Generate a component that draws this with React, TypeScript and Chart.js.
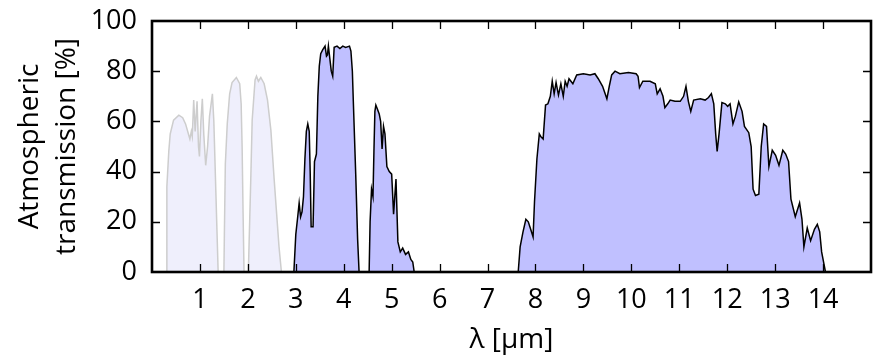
import React, { useEffect, useRef } from "react";
import { Chart, registerables } from "chart.js";

Chart.register(...registerables);

// ---- axis ticks ----
const xTickValues = [1, 2, 3, 4, 5, 6, 7, 8, 9, 10, 11, 12, 13, 14];
const yTickValues = [0, 20, 40, 60, 80, 100];

// ---- visible / NIR windows (light grey) ----
const visWavelength = [
  0.30, 0.31, 0.35, 0.38, 0.45, 0.56, 0.64, 0.70, 0.76, 0.79, 0.82, 0.84, 0.87, 0.90, 0.94, 0.97, 0.99,
  1.02, 1.05, 1.08, 1.12, 1.16, 1.20, 1.26, 1.29, 1.32, 1.36, 1.38,
  1.50, 1.51, 1.53, 1.57, 1.62, 1.67, 1.76, 1.83, 1.86, 1.88, 1.90, 1.92,
  2.01, 2.06, 2.09, 2.15, 2.18, 2.22, 2.27, 2.34, 2.41, 2.48, 2.55, 2.65, 2.70,
];
const visTransmission = [
  0, 34, 48, 55, 60.5, 62.5, 61.5, 59, 55, 53, 56, 54, 68.5, 56, 68, 50, 46,
  60, 69, 55, 42.5, 50, 62, 71, 60, 40, 13.5, 0,
  0, 15, 43, 59, 71, 75.5, 77.5, 75, 67, 50, 23.5, 0,
  0, 36.5, 60.5, 76.5, 78, 76, 77.5, 75, 68.5, 56.5, 36.5, 10, 0,
];

// ---- MWIR window 3-4.3 um ----
const mwirWavelength = [
  2.96, 3.00, 3.04, 3.07, 3.10, 3.13, 3.16, 3.19, 3.22, 3.25, 3.28, 3.30, 3.32, 3.36, 3.39, 3.43,
  3.46, 3.49, 3.52, 3.56, 3.61, 3.64, 3.66, 3.68, 3.71, 3.74, 3.77, 3.80, 3.86, 3.92, 3.98, 4.04,
  4.12, 4.15, 4.18, 4.20, 4.25, 4.29, 4.32,
];
const mwirTransmission = [
  0, 15, 22, 27.5, 22, 24, 30, 45, 56, 59, 56, 40, 18, 18, 44, 47,
  70, 82, 87, 88.5, 90, 86, 86.5, 90, 85, 80, 78, 89.5, 90, 89, 90, 89.5,
  90, 88, 80, 68, 39, 13, 0,
];

// ---- 4.5-5.5 um window ----
const band5Wavelength = [
  4.53, 4.55, 4.58, 4.61, 4.63, 4.65, 4.67, 4.70, 4.74, 4.77, 4.80, 4.83, 4.86, 4.90, 4.95, 5.00,
  5.04, 5.09, 5.13, 5.18, 5.23, 5.29, 5.35, 5.40, 5.44, 5.47,
];
const band5Transmission = [
  0, 20, 33, 30, 48, 64, 66.5, 65, 63, 60, 49, 58, 55, 42, 40, 39,
  23, 37, 12, 8, 9.5, 7, 8, 5, 4, 0,
];

// ---- LWIR window 8-14 um ----
const lwirWavelength = [
  7.64, 7.68, 7.74, 7.80, 7.85, 7.90, 7.95, 7.98, 8.03, 8.08, 8.11, 8.16, 8.21, 8.26, 8.31, 8.35,
  8.39, 8.43, 8.48, 8.53, 8.58, 8.62, 8.66, 8.70, 8.78, 8.86, 9.00, 9.14, 9.24, 9.31, 9.40, 9.49,
  9.54, 9.59, 9.66, 9.76, 9.94, 10.10, 10.14, 10.17, 10.24, 10.39, 10.50, 10.54, 10.60, 10.66, 10.70, 10.76,
  10.81, 10.91, 11.02, 11.09, 11.14, 11.19, 11.24, 11.30, 11.44, 11.54, 11.61, 11.67, 11.72, 11.76, 11.79, 11.83,
  11.89, 11.96, 12.01, 12.06, 12.12, 12.17, 12.24, 12.31, 12.36, 12.45, 12.50, 12.54, 12.59, 12.66, 12.71, 12.76,
  12.82, 12.87, 12.94, 13.01, 13.08, 13.16, 13.22, 13.28, 13.33, 13.42, 13.51, 13.56, 13.60, 13.67, 13.74, 13.82,
  13.88, 13.93, 13.97, 14.02, 14.05,
];
const lwirTransmission = [
  0, 10, 16, 21, 20, 17, 14, 28, 45, 55, 54, 53, 66.5, 67, 70, 76,
  71, 75.5, 70.5, 75, 70, 76, 74, 77, 75, 78.5, 79, 78.5, 79, 77, 74, 69,
  74, 78.5, 80, 79, 79.5, 79, 78, 73.5, 76, 76, 75, 71, 73, 70, 65.5, 67,
  68.5, 68, 68, 70, 74, 68, 64, 68.5, 69, 68.5, 69.5, 71, 67, 55, 48, 55,
  67.5, 67, 66, 67, 59, 62, 67.8, 64, 58, 55.5, 50, 33, 30.5, 31, 50, 59,
  58, 42, 48.5, 46.5, 42.5, 48.5, 47, 44, 29, 22, 27.5, 21, 10, 17.5, 12.5, 17,
  19, 16, 8, 3, 0,
];

const FONT = "'Open Sans', 'Noto Sans', 'DejaVu Sans', sans-serif";

function toPoints(xs: number[], ys: number[]) {
  return xs.map((x, i) => ({ x, y: ys[i] }));
}

const framePlugin = {
  id: "gnuplotFrame",
  afterDatasetsDraw(chart: any) {
    const { ctx, chartArea, scales } = chart;
    const { left, right, top, bottom } = chartArea;
    const xs = scales.x;
    const ys = scales.y;
    const L = 8;
    ctx.save();
    ctx.strokeStyle = "#000";
    ctx.lineWidth = 1.3;
    ctx.beginPath();
    for (const v of xTickValues) {
      const px = Math.round(xs.getPixelForValue(v)) + 0.5;
      ctx.moveTo(px, bottom);
      ctx.lineTo(px, bottom - L);
      ctx.moveTo(px, top);
      ctx.lineTo(px, top + L);
    }
    for (const v of yTickValues) {
      if (v === yTickValues[0] || v === yTickValues[yTickValues.length - 1]) continue;
      const py = Math.round(ys.getPixelForValue(v)) + 0.5;
      ctx.moveTo(left, py);
      ctx.lineTo(left + L, py);
      ctx.moveTo(right, py);
      ctx.lineTo(right - L, py);
    }
    ctx.stroke();
    ctx.lineWidth = 2.6;
    ctx.strokeRect(left, top, right - left, bottom - top);
    ctx.restore();
  },
};

export default function App() {
  const canvasRef = useRef<HTMLCanvasElement | null>(null);

  useEffect(() => {
    if (!canvasRef.current) return;
    const blueStyle = {
      borderColor: "#000000",
      borderWidth: 1.5,
      backgroundColor: "rgb(192,192,255)",
      fill: "origin",
      pointRadius: 0,
      tension: 0,
    };
    const chart = new Chart(canvasRef.current, {
      type: "line",
      data: {
        datasets: [
          {
            label: "visible / NIR",
            data: toPoints(visWavelength, visTransmission),
            borderColor: "rgb(205,205,205)",
            borderWidth: 1.5,
            backgroundColor: "rgb(239,239,252)",
            fill: "origin",
            pointRadius: 0,
            tension: 0,
          },
          { label: "MWIR", data: toPoints(mwirWavelength, mwirTransmission), ...blueStyle },
          { label: "4.5-5.5", data: toPoints(band5Wavelength, band5Transmission), ...blueStyle },
          { label: "LWIR", data: toPoints(lwirWavelength, lwirTransmission), ...blueStyle },
        ],
      },
      options: {
        animation: false,
        responsive: false,
        devicePixelRatio: 1,
        layout: { padding: { top: 21, right: 16, bottom: 0, left: 0 } },
        plugins: {
          legend: { display: false },
          tooltip: { enabled: false },
        },
        scales: {
          x: {
            type: "linear",
            min: 0,
            max: 15,
            afterBuildTicks: (s: any) => {
              s.ticks = xTickValues.map((v) => ({ value: v }));
            },
            afterFit: (s: any) => {
              s.height = 92;
              s.paddingLeft = 0;
              s.paddingRight = 0;
            },
            grid: { display: false, drawTicks: false },
            border: { display: false },
            ticks: {
              padding: 12,
              color: "#000",
              autoSkip: false,
              maxRotation: 0,
              font: { family: FONT, size: 27 },
            },
            title: {
              display: true,
              text: "λ [μm]",
              color: "#000",
              font: { family: FONT, size: 28 },
              padding: { top: 0, bottom: 7 },
            },
          },
          y: {
            type: "linear",
            min: 0,
            max: 100,
            afterBuildTicks: (s: any) => {
              s.ticks = yTickValues.map((v) => ({ value: v }));
            },
            afterFit: (s: any) => {
              s.width = 152;
              s.paddingTop = 0;
              s.paddingBottom = 0;
            },
            grid: { display: false, drawTicks: false },
            border: { display: false },
            ticks: {
              padding: 15,
              color: "#000",
              font: { family: FONT, size: 27 },
            },
            title: {
              display: true,
              text: ["Atmospheric", "transmission [%]"],
              color: "#000",
              font: { family: FONT, size: 28, lineHeight: 1.34 },
              padding: { top: 11, bottom: 0 },
            },
          },
        },
      },
      plugins: [framePlugin],
    } as any);
    return () => chart.destroy();
  }, []);

  return (
    <div style={{ position: "fixed", left: 0, top: 0, width: 887, height: 364, background: "#fff" }}>
      <canvas ref={canvasRef} width={887} height={364} />
    </div>
  );
}
